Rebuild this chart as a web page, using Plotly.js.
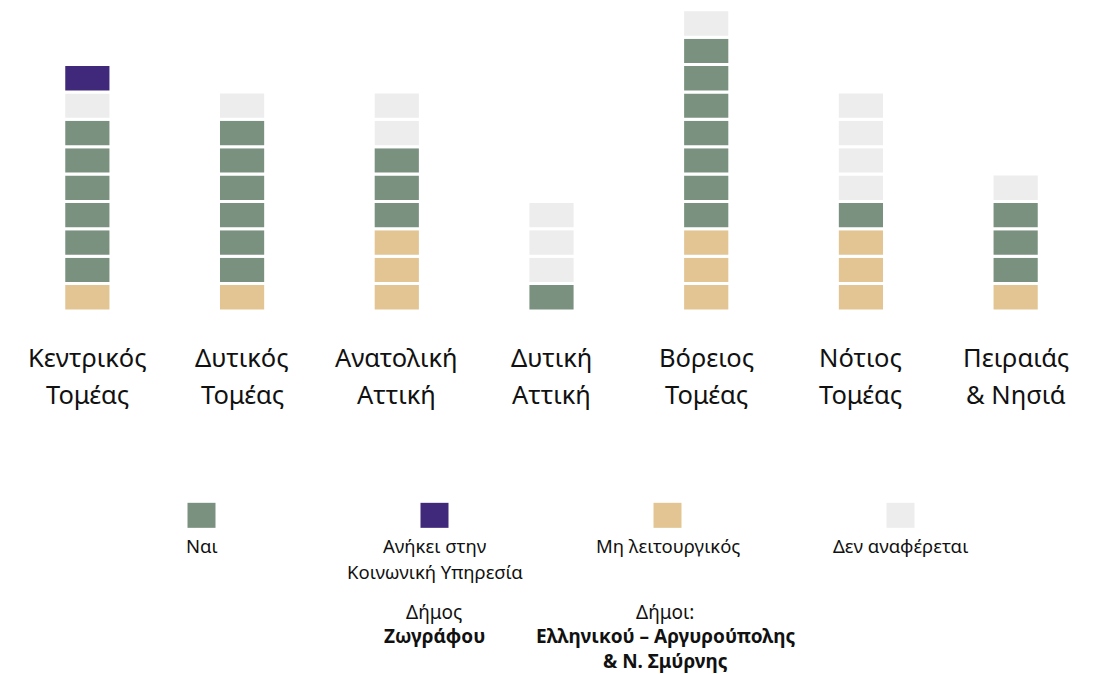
<!DOCTYPE html>
<html><head><meta charset="utf-8">
<script src="https://cdn.plot.ly/plotly-3.0.1.min.js"></script>
<style>html,body{margin:0;padding:0;background:#fff}#chart{width:1104px;height:674px}</style>
</head><body><div id="chart"></div>
<script>
// ---- data ----
const categories = ['Κεντρικός Τομέας','Δυτικός Τομέας','Ανατολική Αττική','Δυτική Αττική','Βόρειος Τομέας','Νότιος Τομέας','Πειραιάς & Νησιά'];
const labelLine1 = ['Κεντρικός','Δυτικός','Ανατολική','Δυτική','Βόρειος','Νότιος','Πειραιάς'];
const labelLine2 = ['Τομέας','Τομέας','Αττική','Αττική','Τομέας','Τομέας','& Νησιά'];

// number of units per status (stacked bottom -> top in this order)
const miLeitourgikos   = [1, 1, 3, 0, 3, 3, 1];
const nai              = [6, 6, 3, 1, 7, 1, 3];
const denAnaferetai    = [1, 1, 2, 3, 1, 4, 1];
const koinonikiYpiresia= [1, 0, 0, 0, 0, 0, 0];

const legendLabels = [['Ναι'], ['Ανήκει στην', 'Κοινωνική Υπηρεσία'], ['Μη λειτουργικός'], ['Δεν αναφέρεται']];
const noteZografou = ['Δήμος', '<b>Ζωγράφου</b>'];
const noteEllinikou = ['Δήμοι:', '<b>Ελληνικού – Αργυρούπολης</b>', '<b>& Ν. Σμύρνης</b>'];

// ---- styles ----
const COLORS = {nai:'#7b9180', koin:'#40287a', mi:'#e2c593', den:'#ededed'};
const FONT = 'Noto Sans, Open Sans, sans-serif';
const TXT = '#111111';

const stackOrder = [
  {name:'Μη λειτουργικός', counts: miLeitourgikos, color: COLORS.mi},
  {name:'Ναι', counts: nai, color: COLORS.nai},
  {name:'Δεν αναφέρεται', counts: denAnaferetai, color: COLORS.den},
  {name:'Ανήκει στην Κοινωνική Υπηρεσία', counts: koinonikiYpiresia, color: COLORS.koin}
];

const cum = categories.map(() => 0);
const traces = stackOrder.map(s => {
  const x = [], y = [], base = [];
  categories.forEach((c, i) => {
    for (let k = 0; k < s.counts[i]; k++) { x.push(c); y.push(1); base.push(cum[i] + k); }
    cum[i] += s.counts[i];
  });
  return {type:'bar', name:s.name, x, y, base, width:0.305,
    marker:{color:s.color, line:{color:'#ffffff', width:3}},
    showlegend:false, hoverinfo:'x+name'};
});

// ---- geometry helpers (pixels -> paper) ----
const W = 1104, H = 674, ML = 10, MR = 11, MT = 5, PB = 310.8;
const plotW = W - ML - MR, plotH = PB - MT;
const unit = 27.36;
const px = v => (v - ML) / plotW;
const py = v => (PB - v) / plotH;

const annotations = [];
categories.forEach((c, i) => {
  annotations.push({xref:'x', yref:'paper', x:c, y:py(357), text:labelLine1[i], showarrow:false,
    xanchor:'center', yanchor:'middle', font:{family:FONT, size:25.5, color:TXT}});
  annotations.push({xref:'x', yref:'paper', x:c, y:py(393.5), text:labelLine2[i], showarrow:false,
    xanchor:'center', yanchor:'middle', font:{family:FONT, size:25.5, color:TXT}});
});

const legendColors = [COLORS.nai, COLORS.koin, COLORS.mi, COLORS.den];
const legendX = [201.5, 434.5, 667.5, 900.5];
const shapes = [];
legendColors.forEach((col, i) => {
  shapes.push({type:'rect', xref:'paper', yref:'paper', x0:px(legendX[i]-14), x1:px(legendX[i]+14),
    y0:py(527.5), y1:py(502.5), fillcolor:col, line:{width:0}});
  legendLabels[i].forEach((t, j) => {
    annotations.push({xref:'paper', yref:'paper', x:px(legendX[i]), y:py(545.5 + j*26), text:t, showarrow:false,
      xanchor:'center', yanchor:'middle', font:{family:FONT, size:18.5, color:TXT}});
  });
});
noteZografou.forEach((t, j) => {
  annotations.push({xref:'paper', yref:'paper', x:px(434), y:py(611.5 + j*24.5), text:t, showarrow:false,
    xanchor:'center', yanchor:'middle', font:{family:FONT, size:19, color:TXT}});
});
noteEllinikou.forEach((t, j) => {
  annotations.push({xref:'paper', yref:'paper', x:px(665), y:py(611.5 + j*24.5), text:t, showarrow:false,
    xanchor:'center', yanchor:'middle', font:{family:FONT, size:19, color:TXT}});
});

const layout = {
  width:W, height:H,
  margin:{l:ML, r:MR, t:MT, b:H - PB, pad:0},
  paper_bgcolor:'#ffffff', plot_bgcolor:'#ffffff',
  barmode:'overlay',
  font:{family:FONT, color:TXT},
  xaxis:{type:'category', categoryorder:'array', categoryarray:categories, range:[-0.5, 6.5],
    showticklabels:false, showline:false, showgrid:false, zeroline:false, ticks:'', fixedrange:true},
  yaxis:{range:[0, plotH/unit], visible:false, showgrid:false, zeroline:false, fixedrange:true},
  annotations, shapes
};

Plotly.newPlot('chart', traces, layout, {displayModeBar:false, staticPlot:true});
</script>
</body></html>
